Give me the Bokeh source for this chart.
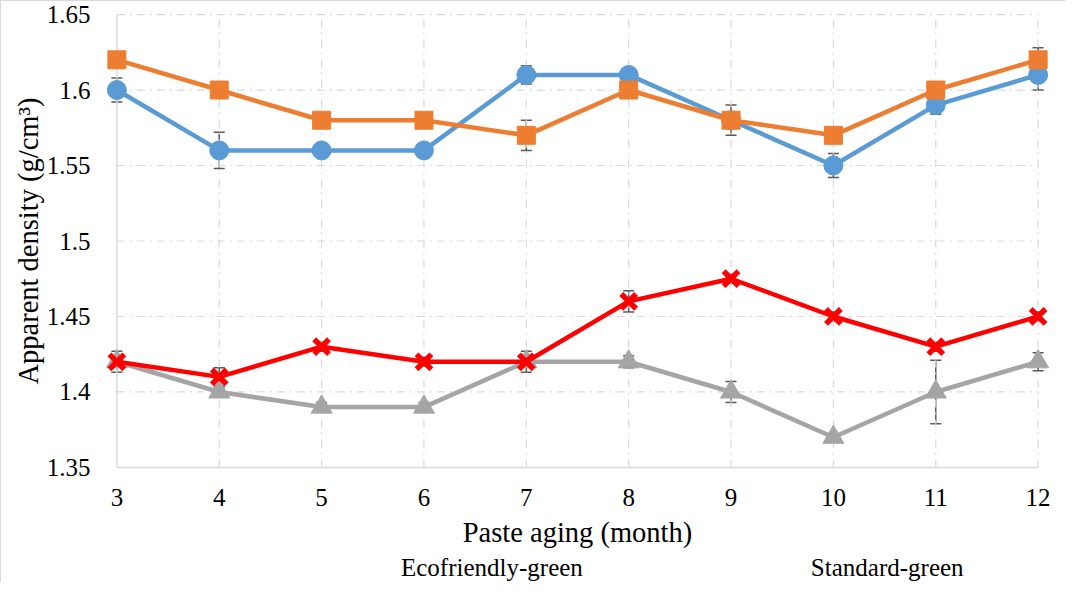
from bokeh.plotting import figure
from bokeh.layouts import column
from bokeh.models import (Range1d, FixedTicker, CustomJSTickFormatter, Whisker, TeeHead,
                          ColumnDataSource, Legend, LegendItem)
from bokeh.embed import file_html
from bokeh.resources import INLINE

# ---------------- data ----------------
months = [3, 4, 5, 6, 7, 8, 9, 10, 11, 12]
eco_green = [1.60, 1.56, 1.56, 1.56, 1.61, 1.61, 1.58, 1.55, 1.59, 1.61]
eco_green_err = [0.008, 0.012, 0.002, 0.002, 0.006, 0.003, 0.010, 0.008, 0.006, 0.010]
std_green = [1.62, 1.60, 1.58, 1.58, 1.57, 1.60, 1.58, 1.57, 1.60, 1.62]
std_green_err = [0.003, 0.003, 0.003, 0.003, 0.010, 0.003, 0.003, 0.003, 0.003, 0.008]
eco_baked = [1.42, 1.40, 1.39, 1.39, 1.42, 1.42, 1.40, 1.37, 1.40, 1.42]
eco_baked_err = [0.007, 0.003, 0.003, 0.003, 0.007, 0.004, 0.007, 0.002, 0.021, 0.006]
std_baked = [1.42, 1.41, 1.43, 1.42, 1.42, 1.46, 1.475, 1.45, 1.43, 1.45]
std_baked_err = [0.003, 0.006, 0.003, 0.003, 0.003, 0.007, 0.003, 0.003, 0.003, 0.003]

x_ticks = [3, 4, 5, 6, 7, 8, 9, 10, 11, 12]
y_ticks = [1.35, 1.40, 1.45, 1.50, 1.55, 1.60, 1.65]
x_title = "Paste aging (month)"
y_title = "Apparent density (g/cm³)"
legend_labels = ["Ecofriendly-green", "Standard-green"]

FONT = "Liberation Serif"
GRID = "#d9d9d9"
BORDER = "1px solid #d9d9d9"

x_pad = 0.16
y_pad = 0.004
p = figure(width=1065, height=552, output_backend="svg", toolbar_location=None,
           x_range=Range1d(x_ticks[0] - x_pad, x_ticks[-1] + x_pad),
           y_range=Range1d(y_ticks[0] - y_pad, y_ticks[-1] + y_pad),
           min_border_left=99, min_border_right=12, min_border_top=7, min_border_bottom=80)
p.styles = {"border-left": BORDER, "border-top": BORDER}
p.outline_line_color = None
p.background_fill_color = "white"
p.border_fill_color = "white"
p.xgrid.visible = False
p.ygrid.visible = False

# grid lines restricted to the data domain
for yv in y_ticks[1:]:
    p.line([x_ticks[0], x_ticks[-1]], [yv, yv], line_color=GRID, line_width=1.2,
           line_dash="8 5 2 5")
for xv in x_ticks[1:]:
    p.line([xv, xv], [y_ticks[0], y_ticks[-1]], line_color=GRID, line_width=1.2,
           line_dash="8 5 2 5")
# axis lines
p.line([x_ticks[0], x_ticks[0]], [y_ticks[0], y_ticks[-1]], line_color=GRID, line_width=1.5)
p.line([x_ticks[0], x_ticks[-1]], [y_ticks[0], y_ticks[0]], line_color=GRID, line_width=1.5)

# axes
for ax in (p.xaxis[0], p.yaxis[0]):
    ax.axis_line_color = None
    ax.major_tick_line_color = None
    ax.minor_tick_line_color = None
    ax.major_label_text_font = FONT
    ax.major_label_text_font_size = "25px"
    ax.major_label_text_color = "black"
    ax.axis_label_text_font = FONT
    ax.axis_label_text_font_size = "28.5px"
    ax.axis_label_text_font_style = "normal"
    ax.axis_label_text_color = "black"

p.xaxis.ticker = FixedTicker(ticks=x_ticks)
p.yaxis.ticker = FixedTicker(ticks=y_ticks)
p.yaxis.formatter = CustomJSTickFormatter(code="return tick.toFixed(2).replace(/0$/, '');")
p.xaxis.axis_label = x_title
p.yaxis.axis_label = y_title
p.xaxis.major_label_standoff = 9
p.xaxis.axis_label_standoff = 8
p.yaxis.major_label_standoff = 4
p.yaxis.axis_label_standoff = 0

ERR = "#595959"
series = [
    (eco_green, eco_green_err, "#5B9BD5", "circle", 19, 1),
    (std_green, std_green_err, "#ED7D31", "square", 18, 1),
    (eco_baked, eco_baked_err, "#A5A5A5", "triangle", 21, 1),
    (std_baked, std_baked_err, "#FF0000", "x", 21, 5.5),
]
for vals, errs, color, marker, size, lw in series:
    src = ColumnDataSource(dict(x=months, y=vals,
                                up=[v + e for v, e in zip(vals, errs)],
                                lo=[v - e for v, e in zip(vals, errs)]))
    w = Whisker(base="x", upper="up", lower="lo", source=src, line_color=ERR, line_width=1.5,
                upper_head=TeeHead(size=11, line_color=ERR, line_width=1.5),
                lower_head=TeeHead(size=11, line_color=ERR, line_width=1.5),
                level="underlay")
    p.add_layout(w)
    p.line("x", "y", source=src, line_color=color, line_width=4.5)
    p.scatter("x", "y", source=src, marker=marker, size=size, fill_color=color,
              line_color=color, line_width=lw)

# legend strip (a separate small figure so the legend is never clipped)
lg = figure(width=1065, height=30, output_backend="svg", toolbar_location=None,
            x_range=Range1d(0, 1), y_range=Range1d(0, 1),
            x_axis_location=None, y_axis_location=None,
            min_border_left=0, min_border_right=0, min_border_top=0, min_border_bottom=0)
lg.styles = {"border-left": BORDER}
lg.outline_line_color = None
lg.xgrid.visible = False
lg.ygrid.visible = False
legend_items = []
for i, label in enumerate(legend_labels):
    _, _, color, marker, size, lw = series[i]
    ln = lg.line(x=[], y=[], line_color=color, line_width=4.5)
    sc = lg.scatter(x=[], y=[], marker=marker, size=size, fill_color=color,
                    line_color=color, line_width=lw)
    legend_items.append(LegendItem(label=label, renderers=[ln, sc]))

legend = Legend(items=legend_items, orientation="horizontal", location=(243, 0),
                label_text_font=FONT, label_text_font_size="25px", label_text_color="black",
                glyph_width=54, glyph_height=24, spacing=170, padding=0, margin=0,
                label_standoff=4, border_line_color=None, background_fill_alpha=0)
lg.add_layout(legend, "center")

layout = column(p, lg, spacing=0)
open("out.html", "w").write(file_html(layout, INLINE))
